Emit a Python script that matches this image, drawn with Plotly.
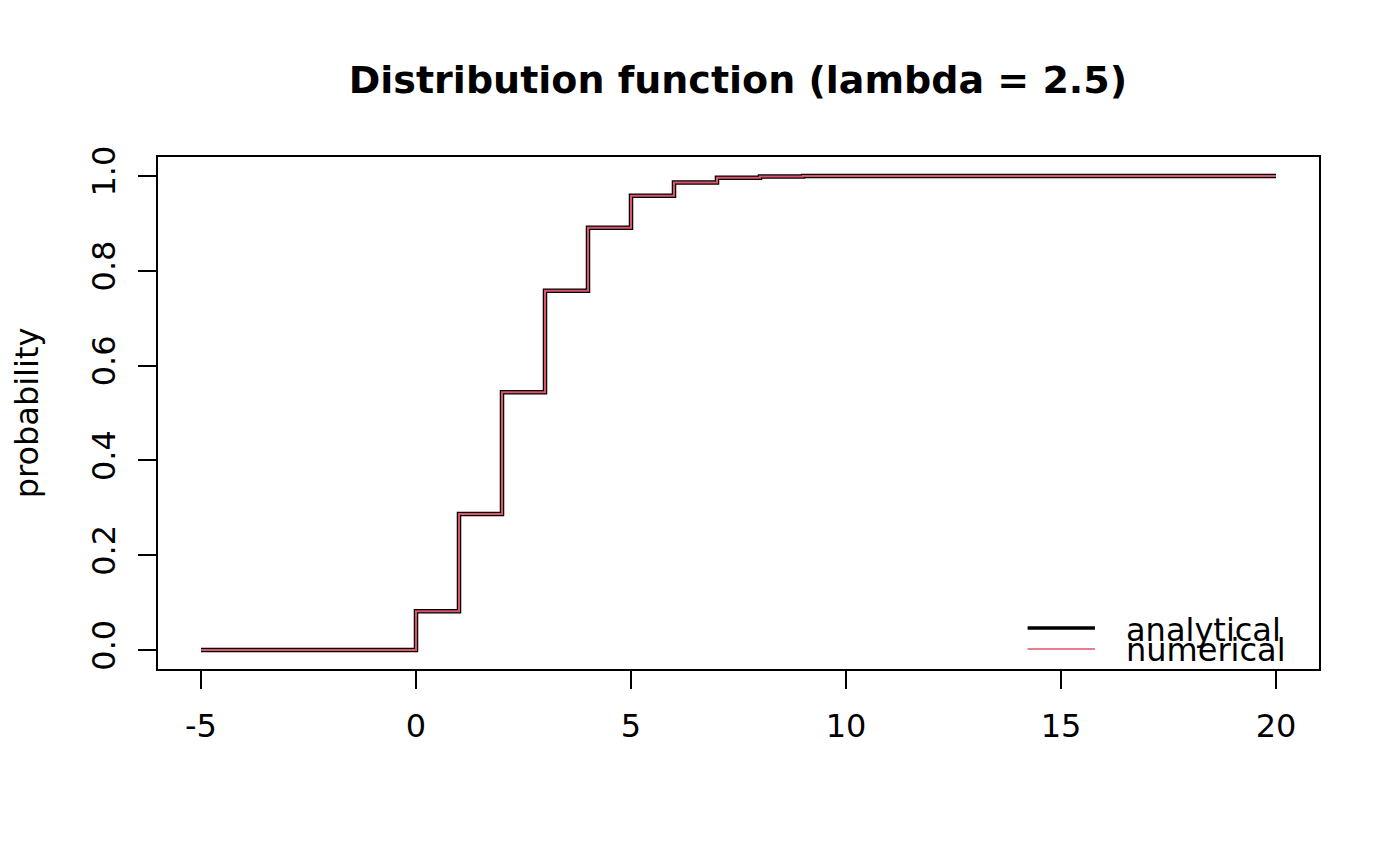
import plotly.graph_objects as go

# values
x_vals = [-5, -4, -3, -2, -1, 0, 1, 2, 3, 4, 5, 6, 7, 8, 9, 10,
          11, 12, 13, 14, 15, 16, 17, 18, 19, 20]
analytical = [0, 0, 0, 0, 0, 0.082, 0.287, 0.544, 0.758, 0.891, 0.958, 0.986,
              0.996, 0.999, 1.0, 1.0, 1.0, 1.0, 1.0, 1.0, 1.0, 1.0, 1.0, 1.0, 1.0, 1.0]
numerical = [0, 0, 0, 0, 0, 0.082, 0.287, 0.544, 0.758, 0.891, 0.958, 0.986,
             0.996, 0.999, 1.0, 1.0, 1.0, 1.0, 1.0, 1.0, 1.0, 1.0, 1.0, 1.0, 1.0, 1.0]
x_ticks = [-5, 0, 5, 10, 15, 20]
x_labels = ['-5', '0', '5', '10', '15', '20']
y_ticks = [0.0, 0.2, 0.4, 0.6, 0.8, 1.0]

red = '#DF536B'
font = 'DejaVu Sans'

fig = go.Figure()
fig.add_trace(go.Scatter(x=x_vals, y=analytical, mode='lines', name='analytical',
                         line=dict(color='black', width=4.5, shape='hv')))
fig.add_trace(go.Scatter(x=x_vals, y=numerical, mode='lines', name='numerical',
                         line=dict(color=red, width=2, shape='hv')))

# legend drawn by hand (no box, tight spacing like R)
fig.add_shape(type='line', xref='paper', yref='paper', x0=0.749, x1=0.807,
              y0=0.080, y1=0.080, line=dict(color='black', width=3.5))
fig.add_shape(type='line', xref='paper', yref='paper', x0=0.749, x1=0.807,
              y0=0.039, y1=0.039, line=dict(color=red, width=1.5))
fig.add_annotation(text='analytical', xref='paper', yref='paper', x=0.832, y=0.076,
                   xanchor='left', yanchor='middle', showarrow=False,
                   font=dict(family=font, size=32, color='black'))
fig.add_annotation(text='numerical', xref='paper', yref='paper', x=0.832, y=0.037,
                   xanchor='left', yanchor='middle', showarrow=False,
                   font=dict(family=font, size=32, color='black'))

fig.update_layout(
    width=1400, height=866,
    margin=dict(l=150, r=89, t=149, b=205),
    paper_bgcolor='white', plot_bgcolor='white',
    showlegend=False,
    font=dict(family=font, size=32, color='black'),
    title=dict(text='<b>Distribution function (lambda = 2.5)</b>',
               x=0.5214, xanchor='center', y=0.917, yanchor='middle',
               font=dict(family=font, size=38, color='black')),
    xaxis=dict(range=[-6, 21], tickvals=x_ticks, ticktext=x_labels,
               ticks='outside', ticklen=18, ticklabelstandoff=10,
               tickwidth=1.5, tickcolor='black', showgrid=False, zeroline=False,
               showline=True, linecolor='black', linewidth=1.5, mirror=True,
               tickfont=dict(size=32)),
    yaxis=dict(range=[-0.04, 1.04], tickvals=y_ticks, tickformat='.1f',
               ticks='outside', ticklen=18, ticklabelstandoff=10,
               tickwidth=1.5, tickcolor='black',
               tickangle=-90, showgrid=False, zeroline=False, showline=True,
               linecolor='black', linewidth=1.5, mirror=True,
               tickfont=dict(size=32),
               title=dict(text='probability', font=dict(size=32), standoff=40)),
)

fig.write_html("out.html")
